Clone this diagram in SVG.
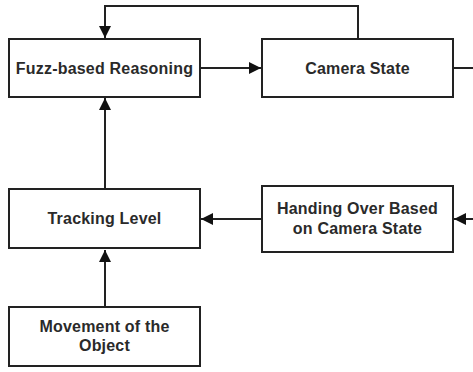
<svg xmlns="http://www.w3.org/2000/svg" width="473" height="372" viewBox="0 0 473 372">
<style>
.box{fill:#fff;stroke:#222;stroke-width:2}
.lbl{font-family:"Liberation Sans",Arial,sans-serif;font-weight:bold;font-size:16px;letter-spacing:0.2px;fill:#2a2a2a;text-anchor:middle}
.con{fill:none;stroke:#222;stroke-width:2}
</style>
<defs>
<marker id="arr" markerUnits="userSpaceOnUse" markerWidth="14" markerHeight="12" refX="12" refY="6" orient="auto">
<path d="M0,0 L12,6 L0,12 Z" fill="#111"/>
</marker>
</defs>
<rect width="473" height="372" fill="#fff"/>
<g id="connectors">
<path class="con" d="M358,39 V6 H105 V38" marker-end="url(#arr)"/>
<path class="con" d="M200,68 H261" marker-end="url(#arr)"/>
<path class="con" d="M453,68 H473"/>
<path class="con" d="M105,189 V98" marker-end="url(#arr)"/>
<path class="con" d="M262,219 H201" marker-end="url(#arr)"/>
<path class="con" d="M473,219 H454" marker-end="url(#arr)"/>
<path class="con" d="M105,307 V250" marker-end="url(#arr)"/>
</g>
<g id="fuzz">
<rect class="box" x="9" y="39" width="191" height="58"/>
<text class="lbl" x="104.5" y="73.5">Fuzz-based Reasoning</text>
</g>
<g id="camera">
<rect class="box" x="262" y="39" width="191" height="58"/>
<text class="lbl" x="357.5" y="73.5">Camera State</text>
</g>
<g id="tracking">
<rect class="box" x="9" y="189" width="191" height="59"/>
<text class="lbl" x="104.5" y="224">Tracking Level</text>
</g>
<g id="handing">
<rect class="box" x="262" y="186" width="191" height="66"/>
<text class="lbl" x="357.5" y="214">Handing Over Based</text>
<text class="lbl" x="357.5" y="233.5">on Camera State</text>
</g>
<g id="movement">
<rect class="box" x="9" y="307" width="191" height="59"/>
<text class="lbl" x="104.5" y="332">Movement of the</text>
<text class="lbl" x="104.5" y="351">Object</text>
</g>
</svg>
